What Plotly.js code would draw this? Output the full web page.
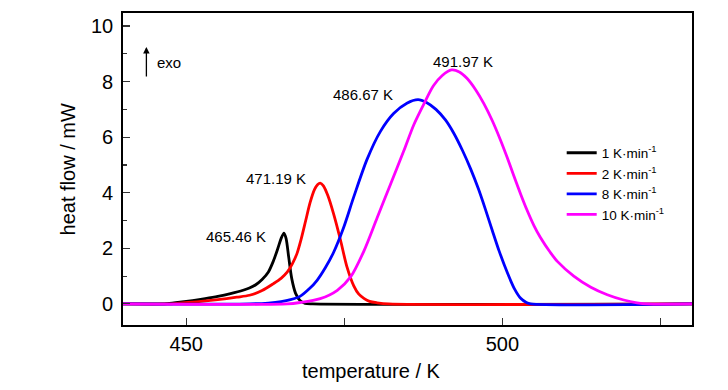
<!DOCTYPE html>
<html>
<head>
<meta charset="utf-8">
<script src="https://cdn.plot.ly/plotly-3.0.1.min.js"></script>
<style>html,body{margin:0;padding:0;background:#fff}#chart{width:728px;height:390px}</style>
</head>
<body>
<div id="chart"></div>
<script>
// ---- data ----
var seriesNames = ['1 K·min<sup>-1</sup>', '2 K·min<sup>-1</sup>', '8 K·min<sup>-1</sup>', '10 K·min<sup>-1</sup>'];
var seriesColors = ['#000000', '#ff0000', '#0000ff', '#ff00ff'];
var peakTemps = [465.46, 471.19, 486.67, 491.97];
var peakFlows = [2.55, 4.35, 7.35, 8.42];

var t1 = [440, 446, 447, 449, 451, 453, 455, 457, 459, 460, 461, 462, 463, 463.8, 464.5, 465, 465.46, 465.8, 466.2, 466.7, 467.3, 468, 468.8, 470, 530];
var q1 = [0, 0, 0.01, 0.06, 0.12, 0.19, 0.27, 0.37, 0.49, 0.57, 0.69, 0.88, 1.15, 1.55, 2.0, 2.35, 2.55, 2.35, 1.7, 0.9, 0.38, 0.12, 0.02, 0, 0];

var t2 = [440, 447, 449, 452, 455, 458, 460, 462, 463.8, 465, 466, 466.8, 467.5, 468.2, 468.9, 469.6, 470.3, 470.8, 471.19, 471.7, 472.4, 473.3, 474.4, 475.4, 476.5, 477.3, 478.1, 479, 480.2, 482, 530];
var q2 = [0, 0, 0.03, 0.08, 0.15, 0.24, 0.31, 0.48, 0.73, 0.92, 1.15, 1.45, 1.8, 2.35, 3.0, 3.65, 4.12, 4.3, 4.35, 4.25, 3.9, 3.25, 2.3, 1.35, 0.65, 0.35, 0.2, 0.09, 0.04, 0, 0];

var t8 = [440, 460, 463, 465, 466.5, 468, 469.5, 470.7, 472, 473.3, 474.9, 476.5, 478.6, 480.7, 482.8, 484.9, 486.67, 488, 489.5, 491, 492.3, 493.7, 495, 496.2, 497.3, 498.4, 499.5, 500.8, 501.9, 502.9, 503.8, 504.5, 530];
var q8 = [0, 0, 0.03, 0.08, 0.15, 0.27, 0.55, 0.85, 1.3, 1.85, 2.75, 3.85, 5.2, 6.2, 6.85, 7.22, 7.35, 7.25, 7.0, 6.62, 6.15, 5.52, 4.85, 4.15, 3.42, 2.65, 1.9, 1.12, 0.55, 0.2, 0.05, 0, 0];

var t10 = [440, 466, 468, 471.2, 473.9, 476, 478.1, 480.2, 482.3, 484.4, 486, 487.6, 489.1, 490.5, 491.97, 493.2, 494.4, 495.8, 497.1, 498.4, 499.7, 500.8, 501.8, 502.9, 503.9, 505, 506, 507.6, 508.7, 511.3, 514, 516.6, 519.2, 521.3, 523, 530];
var q10 = [0, 0, 0.05, 0.19, 0.49, 0.97, 1.9, 3.1, 4.3, 5.5, 6.45, 7.2, 7.85, 8.22, 8.42, 8.35, 8.12, 7.7, 7.2, 6.6, 5.9, 5.25, 4.62, 3.95, 3.38, 2.82, 2.4, 1.85, 1.53, 1.0, 0.6, 0.33, 0.14, 0.04, 0, 0];

var temps = [t1, t2, t8, t10];
var flows = [q1, q2, q8, q10];

var xTitle = 'temperature / K';
var yTitle = 'heat flow / mW';

var FONT = '"Liberation Sans", Arial, sans-serif';

var traces = temps.map(function (t, i) {
  return {
    x: t, y: flows[i], type: 'scatter', mode: 'lines', name: seriesNames[i],
    line: {color: seriesColors[i], width: 2.8, shape: 'spline', smoothing: 0.8}
  };
});

// peak label placement relative to each peak
var labelDx = [-2.5, -2.0, -3.57, 1.73];
var labelDy = [-0.11, 0.15, 0.2, 0.31];
var annotations = peakTemps.map(function (p, i) {
  return {
    x: p + labelDx[i], y: peakFlows[i] + labelDy[i], xref: 'x', yref: 'y',
    text: p.toFixed(2) + ' K', showarrow: false,
    xanchor: i === 3 ? 'center' : 'right', yanchor: 'middle',
    font: {family: FONT, size: 15, color: '#000'}
  };
});
annotations.push({
  x: 443.7, y: 9.25, xref: 'x', yref: 'y', text: '', showarrow: true,
  ax: 0, ay: 31, arrowhead: 2, arrowsize: 1, arrowwidth: 1.3, arrowcolor: '#000'
});
annotations.push({
  x: 447.2, y: 8.69, xref: 'x', yref: 'y', text: 'exo', showarrow: false,
  xanchor: 'center', yanchor: 'middle', font: {family: FONT, size: 15, color: '#000'}
});
annotations.push({
  x: 0.437, y: -0.147, xref: 'paper', yref: 'paper', text: xTitle, showarrow: false,
  xanchor: 'center', yanchor: 'middle', font: {family: FONT, size: 20, color: '#000'}
});
annotations.push({
  x: -0.096, y: 0.5, xref: 'paper', yref: 'paper', text: yTitle, showarrow: false,
  textangle: -90, xanchor: 'center', yanchor: 'middle', font: {family: FONT, size: 20, color: '#000'}
});

var layout = {
  width: 728, height: 390,
  margin: {l: 123, r: 36, t: 13, b: 65},
  paper_bgcolor: '#fff', plot_bgcolor: '#fff',
  showlegend: true,
  legend: {
    x: 0.771, y: 0.601, xanchor: 'left', yanchor: 'top',
    bgcolor: 'rgba(0,0,0,0)', borderwidth: 0,
    font: {family: FONT, size: 13.5, color: '#000'}
  },
  xaxis: {
    range: [440, 530], showgrid: false, zeroline: false,
    showline: true, linecolor: '#000', linewidth: 1.8, mirror: true,
    ticks: 'inside', ticklen: 7, tickwidth: 1.2, tickcolor: '#333',
    tick0: 450, dtick: 50,
    minor: {ticks: 'inside', ticklen: 7, tickwidth: 1.2, tickcolor: '#333', dtick: 25, tick0: 450},
    tickfont: {family: FONT, size: 20, color: '#000'}
  },
  yaxis: {
    range: [-0.76, 10.47], showgrid: false, zeroline: false,
    showline: true, linecolor: '#000', linewidth: 1.8, mirror: true,
    ticks: 'inside', ticklen: 7, tickwidth: 1.2, tickcolor: '#333',
    tick0: 0, dtick: 2,
    minor: {ticks: 'inside', ticklen: 4, tickwidth: 1.2, tickcolor: '#333', dtick: 1, tick0: 0},
    tickfont: {family: FONT, size: 20, color: '#000'},
    ticklabelstandoff: 4
  },
  annotations: annotations
};

Plotly.newPlot('chart', traces, layout, {displayModeBar: false, staticPlot: true});
</script>
</body>
</html>
